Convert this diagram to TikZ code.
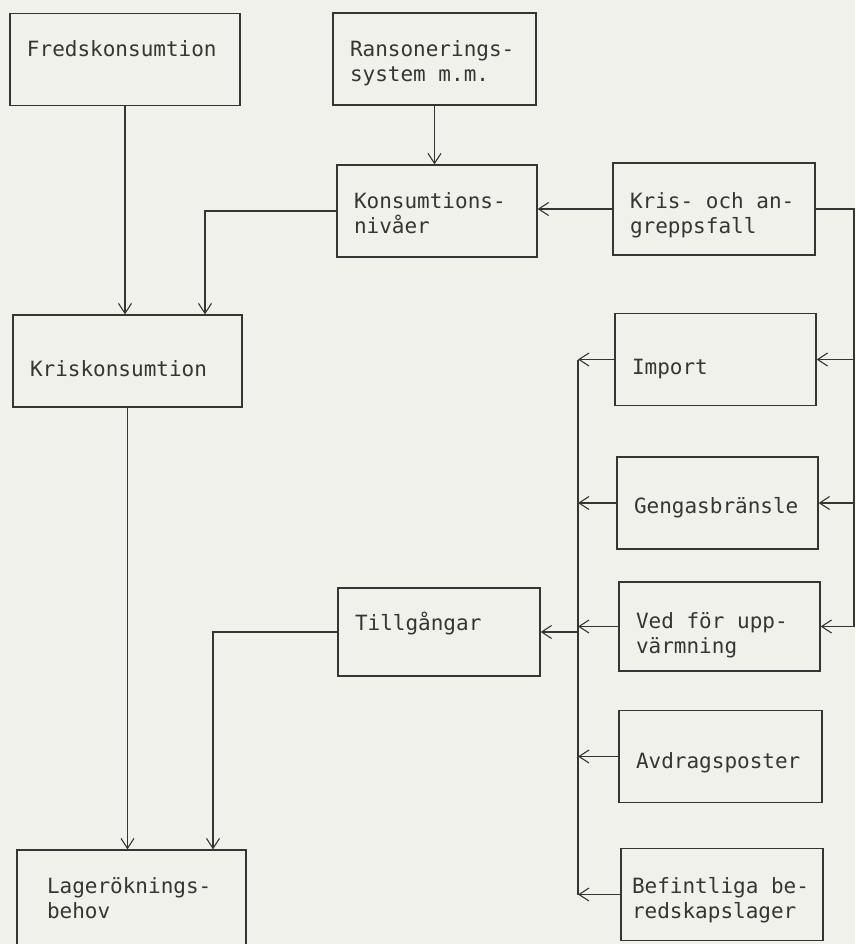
\documentclass[tikz,border=0pt]{standalone}
\usepackage{fontspec}
\setmainfont{DejaVu Sans Mono}
\usetikzlibrary{arrows.meta, positioning, calc}
\definecolor{paper}{HTML}{F1F1EB}
\definecolor{ink}{HTML}{353535}
\tikzset{
  box/.style={draw=ink, line width=1.2pt, text width=#1, align=flush left, minimum height=92pt,
    inner xsep=17pt, text=ink, font=\fontsize{21}{25}\selectfont},
  arr/.style={draw=ink, line width=1.1pt, -{Straight Barb[length=10pt, width=13pt]}},
  line/.style={draw=ink, line width=1.1pt}
}

\begin{document}
\begin{tikzpicture}[x=1pt, y=-1pt]
\useasboundingbox (0,0) rectangle (855,944);
\fill[paper] (0,0) rectangle (855,944);

% consumption side
\node[box=196, text height=16pt, text depth=21pt] (fred) at (125,59.5) {Fredskonsumtion};
\node[box=169, text height=26pt, text depth=30pt] (rans) at (434.5,59) {Ransonerings-\\system m.m.};
\node[box=166, text height=24pt, text depth=30pt] (niv) at (437,211) {Konsumtions-\\nivåer};
\node[box=168, text height=28pt, text depth=30pt] (kris) at (714,209) {Kris- och an-\\greppsfall};
\node[box=195, text height=31pt, text depth=0pt] (krkons) at (127.5,361) {Kriskonsumtion};

% supply side
\node[box=167, text height=35pt, text depth=5pt] (imp) at (715.5,359.5) {Import};
\node[box=167, text height=25pt, text depth=5pt] (geng) at (717.5,503) {Gengasbränsle};
\node[box=168, minimum height=88pt, text height=16pt, text depth=20pt] (tillg) at (439,632) {Tillgångar};
\node[box=167, minimum height=89pt, text height=33pt, text depth=30pt] (ved) at (719.5,626.5) {Ved för upp-\\värmning};
\node[box=169, text height=28pt, text depth=5pt] (avdr) at (720.5,756.5) {Avdragsposter};
\node[box=180, inner xsep=11pt, text height=27pt, text depth=30pt] (bef) at (722,894.5) {Befintliga be-\\redskapslager};
\node[box=169, inner xsep=30pt, minimum height=96pt] (lager) at (131.5,898) {Lageröknings-\\behov};

% top connectors
\draw[arr] (fred.south) -- (fred.south |- krkons.north);
\draw[arr] (rans.south) -- (rans.south |- niv.north);
\draw[arr] (kris.west) -- (kris.west -| niv.east);
\draw[arr] (niv.west) -| ([xshift=77.5pt]krkons.north);

% right feed line
\coordinate (rbus) at (854,0);
\draw[line] (kris.east) -| (rbus |- ved.east);
\foreach \n in {imp,geng,ved}
  \draw[arr] (rbus |- \n.east) -- (\n.east);

% left collector line
\coordinate (lbus) at (578,0);
\draw[line] (lbus |- imp.west) -- (lbus |- bef.west);
\foreach \n in {imp,geng,ved,avdr,bef}
  \draw[arr] (\n.west) -- (lbus |- \n.west);
\draw[arr] (lbus |- tillg.east) -- (tillg.east);

% bottom connectors
\draw[arr] (tillg.west) -| ([xshift=81.5pt]lager.north);
\draw[arr] (krkons.south) -- (krkons.south |- lager.north);
\end{tikzpicture}
\end{document}
